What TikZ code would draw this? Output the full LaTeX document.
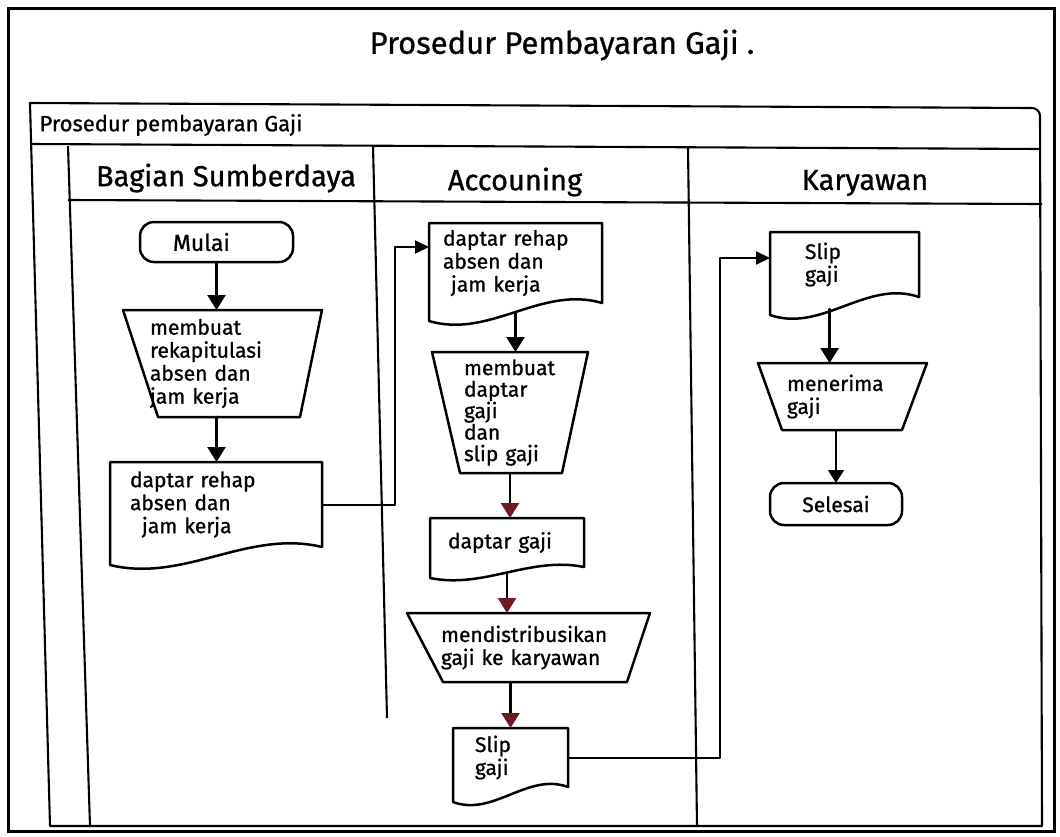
\documentclass[tikz,border=0pt]{standalone}
\usepackage{fontspec}
\setmainfont{Fira Sans}[FakeBold=0.9]
\usetikzlibrary{calc,arrows.meta}
\definecolor{inkred}{RGB}{110,25,35}
\newcommand\bodyfont{\fontsize{21}{23}\selectfont}
% document symbol: straight top and sides, wavy bottom (#2 = depth of the wave)
\newcommand\docoutline[2]{%
  \draw[pen] ($(#1.south west)+(0,#2)$) -- (#1.north west) -- (#1.north east) -- (#1.south east)
    .. controls ($(#1.south west)!0.65!(#1.south east)+(0,-#2)$)
       and ($(#1.south west)!0.35!(#1.south east)+(0,2*#2)$) .. ($(#1.south west)+(0,#2)$) -- cycle;}
% manual operation: wide top, narrower bottom (#2, #3 = left and right insets)
\newcommand\trapoutline[3]{%
  \draw[pen] (#1.north west) -- (#1.north east) -- ($(#1.south east)+(-#3,0)$)
    -- ($(#1.south west)+(#2,0)$) -- cycle;}
\begin{document}
\begin{tikzpicture}[x=1pt,y=-1pt,
  pen/.style={line width=2.5pt, line join=round, line cap=round},
  lane/.style={line width=2.1pt, line join=round},
  box/.style={inner sep=0pt, outer sep=0pt, align=left, font=\bodyfont},
  termbox/.style={box, pen, draw, rounded corners=14pt},
  arr/.style={pen, -{Triangle[width=18pt,length=15pt]}},
  redarr/.style={pen, -{Triangle[width=18pt,length=15pt,color=inkred]}},
  link/.style={line width=2pt, line join=round, -{Triangle[width=13pt,length=14pt]}},
  head/.style={font=\fontsize{29}{31}\selectfont}]

\useasboundingbox (0,0) rectangle (1060,836);
\fill[white] (0,0) rectangle (1060,836);

% sheet frame and title
\draw[line width=3pt] (8,8) rectangle (1054,831);
\node[font=\fontsize{31}{33}\selectfont] (title) at (562,45) {Prosedur Pembayaran Gaji .};

% pool and swimlanes
\draw[lane] (50,826) -- (30,103) -- (1032,108) to[out=0,in=90] (1040,116) -- (1042,826) -- cycle;
\draw[lane] (31,144) -- (1040,149);
\node[anchor=west, font=\fontsize{22}{24}\selectfont] (pool) at (36,125) {Prosedur pembayaran Gaji};
\draw[lane] (68,146) -- (90,826);
\draw[lane] (68,200) -- (1042,204);
\draw[lane] (373,146) -- (387,718);
\draw[lane] (688,147) -- (697,826);
\node[head] (laneA) at (226,178) {Bagian Sumberdaya};
\node[head] (laneB) at (515,182) {Accouning};
\node[head] (laneC) at (865,183) {Karyawan};

% Bagian Sumberdaya
\node[termbox, minimum width=153pt, minimum height=40pt, inner xsep=33pt, text width=87pt,
      font=\fontsize{23}{25}\selectfont] (mulai) at (216.5,242) {Mulai};
\node[box, minimum width=199pt, minimum height=107pt, inner xsep=27pt, text width=145pt]
  (trap1) at (222.5,363.5) {membuat\\rekapitulasi\\absen dan\\jam kerja};
\trapoutline{trap1}{35}{22}
\node[box, minimum width=212pt, minimum height=85pt, inner xsep=20pt, text width=172pt]
  (doc1) at (216,504.5) {daptar rehap\\absen dan\\\hspace*{12pt}jam kerja};
\docoutline{doc1}{18}

% Accounting
\node[box, minimum width=173pt, minimum height=80pt, inner xsep=14pt, text width=145pt]
  (doc2) at (515.5,263) {daptar rehap\\absen dan\\\hspace*{8pt}jam kerja};
\docoutline{doc2}{18}
\node[box, minimum width=156pt, minimum height=121pt, inner xsep=32pt, text width=92pt,
      font=\fontsize{21}{21.5}\selectfont] (trap2) at (510,412.5) {membuat\\daptar\\gaji\\dan\\slip gaji};
\trapoutline{trap2}{28}{26}
\node[box, minimum width=154pt, minimum height=49pt, inner xsep=18pt, text width=118pt]
  (doc3) at (507,542.5) {daptar gaji};
\docoutline{doc3}{11}
\node[box, minimum width=243pt, minimum height=69pt, inner xsep=34pt, text width=175pt]
  (trap3) at (528.5,647.5) {mendistribusikan\\gaji ke karyawan};
\trapoutline{trap3}{36}{23}
\node[box, minimum width=115pt, minimum height=59pt, inner xsep=22pt, text width=71pt]
  (doc4) at (510.5,757.5) {Slip\\gaji};
\docoutline{doc4}{15}

% Karyawan
\node[box, minimum width=149pt, minimum height=65pt, inner xsep=35pt, text width=79pt]
  (doc5) at (844.5,264.5) {Slip\\gaji};
\docoutline{doc5}{18}
\node[box, minimum width=169pt, minimum height=67pt, inner xsep=29pt, text width=111pt]
  (trap4) at (842.5,396.5) {menerima\\gaji};
\trapoutline{trap4}{24}{25}
\node[termbox, minimum width=132pt, minimum height=42pt, align=center] (selesai) at (836,504) {Selesai};

% flow inside the lanes
\draw[arr] (mulai.south) -- (mulai.south |- trap1.north);
\draw[arr] (trap1.south -| mulai.south) -- (doc1.north -| mulai.south);
\draw[arr] ($(doc2.south)+(0,9)$) -- (trap2.north -| doc2.south);
\draw[redarr] (trap2.south) -- (trap2.south |- doc3.north);
\draw[redarr] ($(doc3.south)+(0,6)$) -- (trap3.north -| doc3.south);
\draw[redarr] (doc4.north |- trap3.south) -- (doc4.north);
\coordinate (out5) at ($(doc5.south west)!0.4!(doc5.south east)+(0,12)$);
\draw[arr] (out5) -- (out5 |- trap4.north);
\draw[line width=1.6pt, -{Triangle[width=16pt,length=13pt]}] (selesai.north |- trap4.south) -- (selesai.north);

% hand-offs between lanes
\coordinate (j1) at (395,380);
\coordinate (in2) at ($(doc2.north west)!0.3!(doc2.south west)$);
\draw[link] (doc1.east) -| (j1) |- (in2);
\coordinate (j2) at (720,500);
\coordinate (in5) at ($(doc5.north west)!0.4!(doc5.south west)$);
\draw[link] (doc4.east) -| (j2) |- (in5);
\end{tikzpicture}
\end{document}
